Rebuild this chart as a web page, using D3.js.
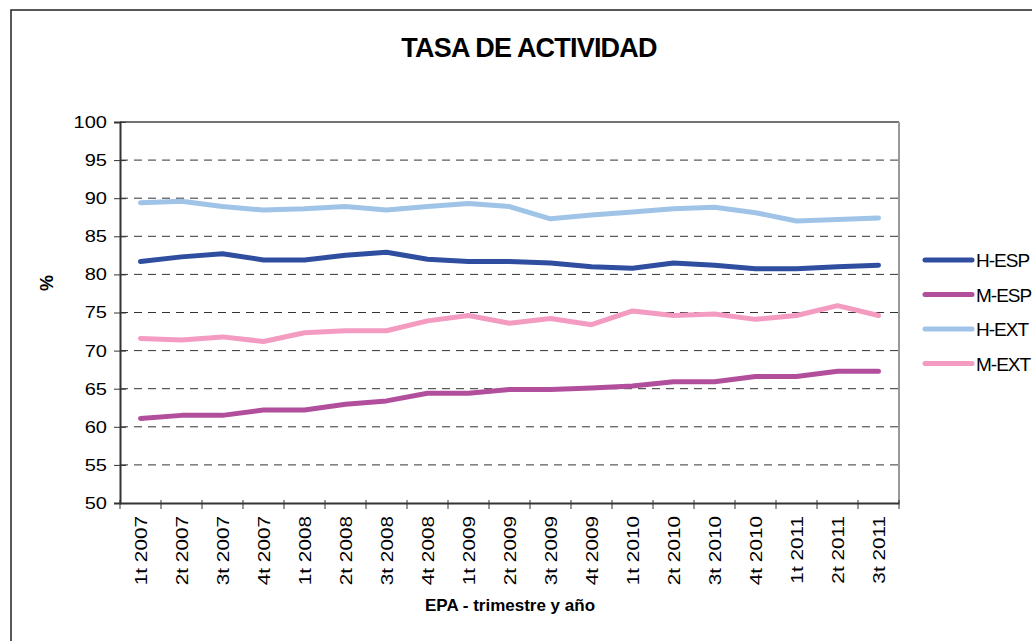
<!DOCTYPE html>
<html>
<head>
<meta charset="utf-8">
<script src="https://cdn.jsdelivr.net/npm/d3@7"></script>
<style>
  body { margin: 0; background: #fff; }
  svg { display: block; font-family: "Liberation Sans", Arial, sans-serif; }
</style>
</head>
<body>
<div class="canvas"></div>
<script>
const quarters = ["1t 2007","2t 2007","3t 2007","4t 2007","1t 2008","2t 2008","3t 2008","4t 2008",
    "1t 2009","2t 2009","3t 2009","4t 2009","1t 2010","2t 2010","3t 2010","4t 2010",
    "1t 2011","2t 2011","3t 2011"]

const hEsp = [81.7,82.3,82.7,81.9,81.9,82.5,82.9,82.0,81.7,81.7,81.5,81.0,80.8,81.5,81.2,80.75,80.75,81.0,81.2]
const mEsp = [61.1,61.5,61.5,62.2,62.2,62.95,63.4,64.4,64.4,64.9,64.9,65.1,65.35,65.9,65.9,66.6,66.6,67.3,67.3]
const hExt = [89.4,89.6,88.9,88.45,88.6,88.9,88.45,88.9,89.3,88.9,87.3,87.8,88.2,88.6,88.8,88.1,87.0,87.2,87.4]
const mExt = [71.6,71.4,71.8,71.2,72.35,72.6,72.6,73.9,74.6,73.6,74.2,73.4,75.2,74.6,74.8,74.1,74.6,75.9,74.6]

const seriesNames = ["H-ESP","M-ESP","H-EXT","M-EXT"]
const seriesColors = ["#2f4ea0","#b24f9c","#9fc4e8","#f49bc2"]
const yTicks = [50,55,60,65,70,75,80,85,90,95,100]

const width = 1032
const height = 641

const svg = d3.select(".canvas")
    .append("svg")
    .attr("width", width)
    .attr("height", height)

// chart border (runs off the right and bottom)
svg.append("rect")
    .attr("x", 11)
    .attr("y", 10)
    .attr("width", 1040)
    .attr("height", 660)
    .attr("fill", "none")
    .attr("stroke", "#222")
    .attr("stroke-width", 1.5)

const margin = { top: 122, left: 120 }
const graphWidth = 779
const graphHeight = 381
const stretch = 1.18   // text in the original is drawn a bit wide

const graph = svg.append("g")
    .attr("transform", `translate(${margin.left}, ${margin.top})`)

const scaleX = d3.scaleBand()
    .domain(quarters)
    .range([0, graphWidth])

const scaleY = d3.scaleLinear()
    .domain([50, 100])
    .range([graphHeight, 0])

// plot area frame
graph.append("line")
    .attr("x1", 0).attr("x2", graphWidth)
    .attr("y1", 0).attr("y2", 0)
    .attr("stroke", "#444").attr("stroke-width", 1.5)
graph.append("line")
    .attr("x1", graphWidth).attr("x2", graphWidth)
    .attr("y1", 0).attr("y2", graphHeight)
    .attr("stroke", "#999").attr("stroke-width", 2)

// dashed gridlines
graph.selectAll(".grid")
    .data(yTicks.filter(d => d > 50 && d < 100))
    .enter()
    .append("line")
    .attr("class", "grid")
    .attr("x1", 0).attr("x2", graphWidth)
    .attr("y1", d => scaleY(d)).attr("y2", d => scaleY(d))
    .attr("stroke", "#333")
    .attr("stroke-width", 1)
    .attr("stroke-dasharray", "8,6")

// axes
const yAxis = d3.axisLeft(scaleY)
    .tickValues(yTicks)
    .tickSize(6)
    .tickPadding(6)

const yAxisGroup = graph.append("g").call(yAxis)
yAxisGroup.select(".domain").attr("stroke", "#333").attr("stroke-width", 2)
yAxisGroup.selectAll(".tick line").attr("stroke", "#333").attr("x2", 6).attr("x1", -6)
yAxisGroup.selectAll("text")
    .attr("font-size", 17)
    .attr("fill", "#000")
    .attr("x", -13 / stretch)
    .attr("transform", `scale(${stretch}, 1)`)
    .style("font-family", "Liberation Sans, Arial, sans-serif")

const xAxis = d3.axisBottom(scaleX)
    .tickSize(0)
    .tickFormat("")

const xAxisGroup = graph.append("g")
    .attr("transform", `translate(0, ${graphHeight})`)
    .call(xAxis)
xAxisGroup.select(".domain").attr("stroke", "#333").attr("stroke-width", 2)

// tick marks at category boundaries
const bounds = quarters.map(q => scaleX(q)).concat([graphWidth])
xAxisGroup.selectAll(".bound")
    .data(bounds)
    .enter()
    .append("line")
    .attr("class", "bound")
    .attr("x1", d => d).attr("x2", d => d)
    .attr("y1", -3).attr("y2", 6)
    .attr("stroke", "#333")

// rotated category labels
xAxisGroup.selectAll(".qlabel")
    .data(quarters)
    .enter()
    .append("text")
    .attr("class", "qlabel")
    .attr("transform", d => `translate(${scaleX(d) + scaleX.bandwidth() / 2 + 6}, 13) rotate(-90) scale(1.22, 1)`)
    .attr("text-anchor", "end")
    .attr("font-size", 17)
    .attr("fill", "#000")
    .text(d => d)

// series lines
const series = [hEsp, mEsp, hExt, mExt]
const line = d3.line()
    .x((d, i) => scaleX(quarters[i]) + scaleX.bandwidth() / 2)
    .y(d => scaleY(d))

graph.selectAll(".series")
    .data(series)
    .enter()
    .append("path")
    .attr("class", "series")
    .attr("d", d => line(d))
    .attr("fill", "none")
    .attr("stroke", (d, i) => seriesColors[i])
    .attr("stroke-width", 5)
    .attr("stroke-linejoin", "round")
    .attr("stroke-linecap", "round")

// title and axis titles
svg.append("text")
    .attr("x", 529)
    .attr("y", 57)
    .attr("text-anchor", "middle")
    .attr("font-size", 27)
    .attr("font-weight", "bold")
    .attr("letter-spacing", -0.8)
    .text("TASA DE ACTIVIDAD")

svg.append("text")
    .attr("transform", "translate(53, 283) rotate(-90)")
    .attr("text-anchor", "middle")
    .attr("font-size", 18)
    .attr("font-weight", "bold")
    .text("%")

svg.append("text")
    .attr("x", 510)
    .attr("y", 611)
    .attr("text-anchor", "middle")
    .attr("font-size", 17)
    .attr("font-weight", "bold")
    .text("EPA - trimestre y año")

// legend
const legend = svg.append("g")
    .attr("transform", "translate(925, 260)")

const legendItems = legend.selectAll(".item")
    .data(seriesNames)
    .enter()
    .append("g")
    .attr("class", "item")
    .attr("transform", (d, i) => `translate(0, ${i * 34.5})`)

legendItems.append("line")
    .attr("x1", 0).attr("x2", 47)
    .attr("y1", 0).attr("y2", 0)
    .attr("stroke", (d, i) => seriesColors[i])
    .attr("stroke-width", 5)
    .attr("stroke-linecap", "round")

legendItems.append("text")
    .attr("x", 51)
    .attr("y", 7)
    .attr("font-size", 19)
    .attr("letter-spacing", -1)
    .text(d => d)
</script>
</body>
</html>
